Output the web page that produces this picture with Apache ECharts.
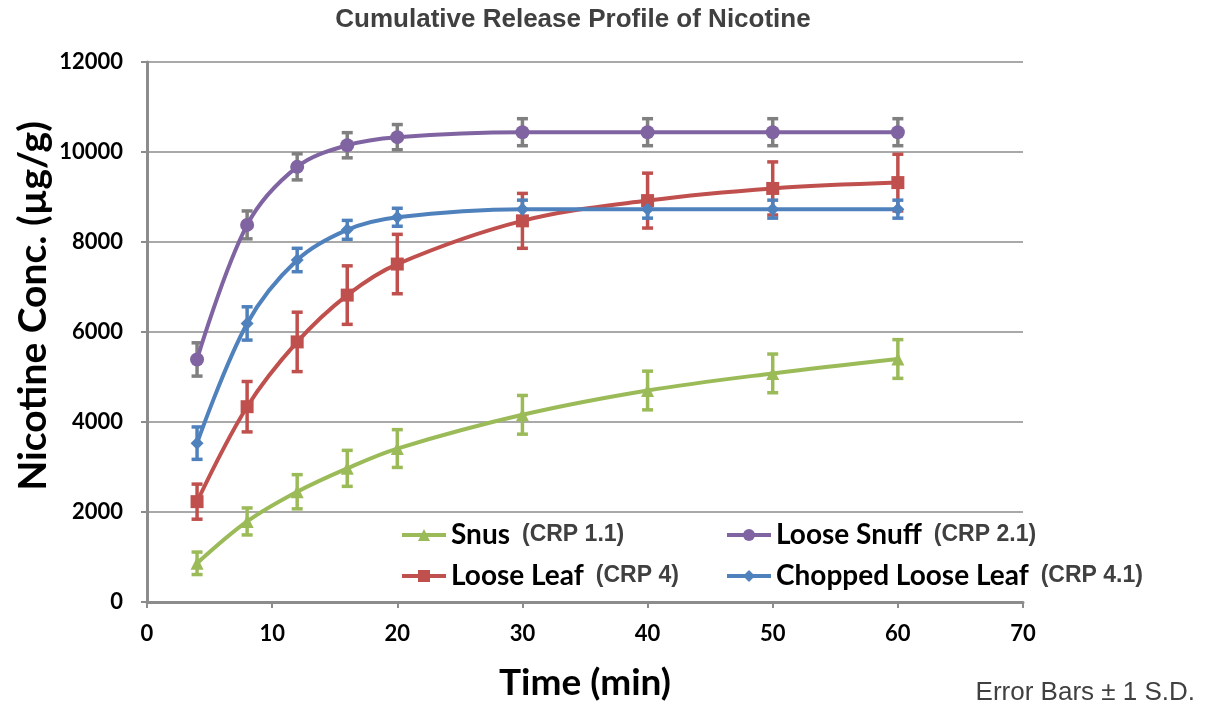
<!DOCTYPE html>
<html>
<head>
<meta charset="utf-8">
<script src="https://cdn.jsdelivr.net/npm/echarts@6/dist/echarts.min.js"></script>
<style>
  html, body { margin: 0; padding: 0; background: #fff; }
  #chart { width: 1210px; height: 709px; }
</style>
</head>
<body>
<div id="chart"></div>
<script>
// sampling times (min)
const times = [4, 8, 12, 16, 20, 30, 40, 50, 60]

// mean nicotine conc. (µg/g) and ±1 SD
const snus = [860, 1790, 2450, 2970, 3410, 4160, 4700, 5080, 5400]
const snusSd = [250, 300, 380, 400, 420, 430, 430, 430, 430]
const looseSnuff = [5390, 8380, 9670, 10150, 10330, 10440, 10440, 10440, 10440]
const looseSnuffSd = [370, 310, 290, 280, 280, 300, 300, 300, 300]
const looseLeaf = [2230, 4340, 5780, 6820, 7510, 8470, 8920, 9190, 9320]
const looseLeafSd = [390, 560, 660, 650, 660, 610, 610, 590, 630]
const chopped = [3530, 6190, 7600, 8270, 8550, 8730, 8730, 8730, 8730]
const choppedSd = [360, 370, 260, 210, 200, 200, 200, 200, 200]

const seriesNames = ['Snus', 'Loose Snuff', 'Loose Leaf', 'Chopped Loose Leaf']
const seriesCodes = ['(CRP 1.1)', '(CRP 2.1)', '(CRP 4)', '(CRP 4.1)']
const xTicks = [0, 10, 20, 30, 40, 50, 60, 70]
const yTicks = [0, 2000, 4000, 6000, 8000, 10000, 12000]

const chart = echarts.init(document.getElementById('chart'))

const GRID = '#8c8c8c'
const LABEL_FONT = 'Lato, "Open Sans", sans-serif'
const ARIAL = '"Liberation Sans", Arial, sans-serif'

const defs = [
  { values: snus, sd: snusSd, color: '#9BBB59', bar: '#9BBB59', symbol: 'triangle', size: 13 },
  { values: looseSnuff, sd: looseSnuffSd, color: '#8064A2', bar: '#808080', symbol: 'circle', size: 14 },
  { values: looseLeaf, sd: looseLeafSd, color: '#C0504D', bar: '#C0504D', symbol: 'rect', size: 13 },
  { values: chopped, sd: choppedSd, color: '#4F81BD', bar: '#4F81BD', symbol: 'diamond', size: 13 }
]

// error bar: vertical stem + caps, positioned through the axes
function errorBar(color) {
  return function (params, api) {
    const top = api.coord([api.value(0), api.value(2)])
    const bottom = api.coord([api.value(0), api.value(1)])
    const w = 5.5
    const style = { stroke: color, lineWidth: 3.5 }
    return {
      type: 'group',
      children: [
        { type: 'line', shape: { x1: top[0], y1: top[1], x2: bottom[0], y2: bottom[1] }, style },
        { type: 'line', shape: { x1: top[0] - w, y1: top[1], x2: top[0] + w, y2: top[1] }, style },
        { type: 'line', shape: { x1: bottom[0] - w, y1: bottom[1], x2: bottom[0] + w, y2: bottom[1] }, style }
      ]
    }
  }
}

const series = []
defs.forEach((d, i) => {
  series.push({
    name: seriesNames[i] + ' SD',
    type: 'custom',
    data: times.map((t, k) => [t, d.values[k] - d.sd[k], d.values[k] + d.sd[k]]),
    renderItem: errorBar(d.bar),
    encode: { x: 0, y: [1, 2] },
    silent: true,
    z: 2
  })
  series.push({
    name: seriesNames[i],
    type: 'line',
    data: times.map((t, k) => [t, d.values[k]]),
    smooth: 0.35,
    symbol: d.symbol,
    symbolSize: d.size,
    lineStyle: { color: d.color, width: 4 },
    itemStyle: { color: d.color },
    z: 3
  })
})

// four legend boxes placed like the original 2x2 block
const legendPos = [[400, 521], [725, 521], [400, 562], [725, 562]]
const legends = seriesNames.map((name, i) => ({
  data: [name],
  left: legendPos[i][0],
  top: legendPos[i][1],
  itemWidth: 44,
  itemHeight: 15,
  itemGap: 0,
  padding: 0,
  selectedMode: false,
  lineStyle: { width: 4 },
  formatter: n => `{a|${n}}{b|${seriesCodes[i]}}`,
  textStyle: {
    rich: {
      a: { fontFamily: LABEL_FONT, fontWeight: 'bold', fontSize: 28, color: '#000' },
      b: { fontFamily: ARIAL, fontWeight: 'bold', fontSize: 23, color: '#404040', padding: [0, 0, 0, 12] }
    }
  }
}))

const option = {
  backgroundColor: '#fff',
  animation: false,
  title: {
    text: 'Cumulative Release Profile of Nicotine',
    left: 568,
    textAlign: 'center',
    top: 2,
    textStyle: { fontFamily: ARIAL, fontSize: 26, fontWeight: 'bold', color: '#404040' }
  },
  legend: legends,
  grid: { left: 147, right: 187, top: 62, bottom: 107, outerBoundsMode: 'none' },
  xAxis: {
    type: 'value',
    min: xTicks[0],
    max: xTicks[xTicks.length - 1],
    interval: 10,
    axisLine: { show: true, lineStyle: { color: GRID, width: 3 } },
    axisTick: { show: true, length: 6, lineStyle: { color: GRID, width: 2 } },
    axisLabel: { margin: 21, fontFamily: LABEL_FONT, fontWeight: 'bold', fontSize: 22, color: '#000' },
    splitLine: { show: false }
  },
  yAxis: {
    type: 'value',
    min: yTicks[0],
    max: yTicks[yTicks.length - 1],
    interval: 2000,
    axisLine: { show: true, lineStyle: { color: GRID, width: 3 } },
    axisTick: { show: true, length: 6, lineStyle: { color: GRID, width: 2 } },
    axisLabel: { margin: 24, fontFamily: LABEL_FONT, fontWeight: 'bold', fontSize: 22, color: '#000', formatter: v => String(v) },
    splitLine: { show: true, lineStyle: { color: GRID, width: 1.5 } }
  },
  graphic: [
    {
      type: 'text',
      x: 33,
      y: 306,
      rotation: Math.PI / 2,
      style: { text: 'Nicotine Conc. (µg/g)', font: 'bold 39px Lato, "Open Sans", sans-serif', fill: '#000', align: 'center', verticalAlign: 'middle' }
    },
    {
      type: 'text',
      x: 585,
      y: 683,
      style: { text: 'Time (min)', font: 'bold 37px Lato, "Open Sans", sans-serif', fill: '#000', align: 'center', verticalAlign: 'middle' }
    },
    {
      type: 'text',
      x: 1195,
      y: 693,
      style: { text: 'Error Bars ± 1 S.D.', font: '26px "Liberation Sans", Arial, sans-serif', fill: '#404040', align: 'right', verticalAlign: 'middle' }
    }
  ],
  series
}

chart.setOption(option)
</script>
</body>
</html>
